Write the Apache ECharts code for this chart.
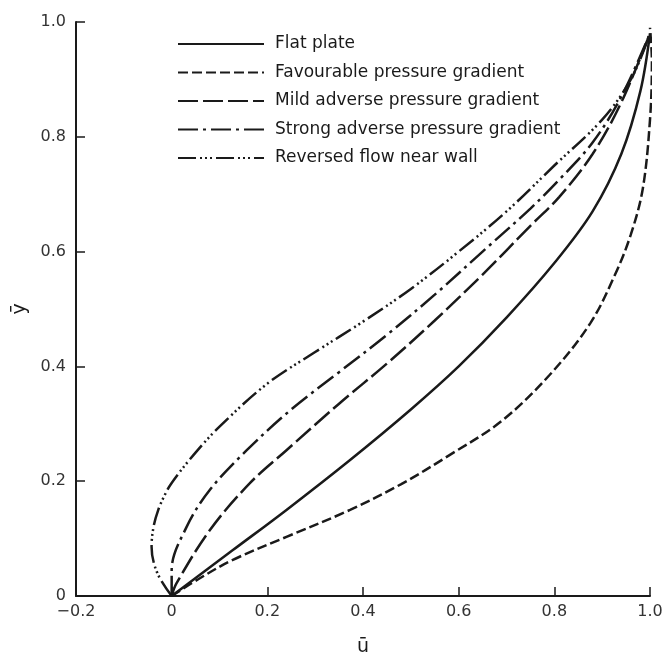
<!DOCTYPE html>
<html>
<head>
<meta charset="utf-8">
<script src="https://cdn.jsdelivr.net/npm/echarts@6/dist/echarts.min.js"></script>
<style>
  html, body { margin: 0; padding: 0; background: #fff; }
  #chart { width: 670px; height: 659px; }
</style>
</head>
<body>
<div id="chart"></div>
<script>
// velocity profiles, [u, y] pairs
const flatPlate = [
  [0, 0], [0.128, 0.08], [0.24, 0.15], [0.373, 0.237], [0.5, 0.325], [0.6, 0.4],
  [0.7, 0.485], [0.8, 0.58], [0.88, 0.67], [0.94, 0.77], [0.98, 0.88], [1.0, 0.98]
];
const favourable = [
  [0, 0], [0.059, 0.031], [0.128, 0.063], [0.24, 0.103], [0.373, 0.15], [0.48, 0.195],
  [0.58, 0.245], [0.69, 0.305], [0.79, 0.385], [0.875, 0.475], [0.927, 0.56],
  [0.96, 0.63], [0.985, 0.71], [1.0, 0.83], [1.004, 0.93], [1.0, 0.99]
];
const mildAdverse = [
  [0, 0], [0.01, 0.022], [0.08, 0.115], [0.164, 0.197], [0.24, 0.254], [0.35, 0.335],
  [0.45, 0.405], [0.55, 0.48], [0.65, 0.56], [0.75, 0.645], [0.81, 0.695], [0.88, 0.77],
  [0.94, 0.86], [1.0, 0.98]
];
const strongAdverse = [
  [0, 0], [0, 0.045], [0.031, 0.12], [0.08, 0.185], [0.157, 0.254], [0.25, 0.325],
  [0.35, 0.39], [0.45, 0.455], [0.55, 0.525], [0.65, 0.6], [0.75, 0.675], [0.81, 0.725],
  [0.88, 0.79], [0.94, 0.87], [1.0, 0.98]
];
const reversedFlow = [
  [0, 0], [-0.03, 0.04], [-0.042, 0.086], [-0.038, 0.12], [-0.028, 0.15], [-0.015, 0.175],
  [0, 0.197], [0.045, 0.245], [0.1, 0.295], [0.2, 0.37], [0.3, 0.425], [0.4, 0.478],
  [0.5, 0.535], [0.6, 0.6], [0.7, 0.67], [0.8, 0.75], [0.9, 0.83], [0.96, 0.9], [1.0, 0.98]
];
const seriesNames = [
  "Flat plate",
  "Favourable pressure gradient",
  "Mild adverse pressure gradient",
  "Strong adverse pressure gradient",
  "Reversed flow near wall"
];

const ink = "#1a1a1a";
const fontFamily = "DejaVu Sans";

function tickLabel(v) {
  if (v === 0) return "0";
  return v.toFixed(1).replace("-", "\u2212");
}

function profile(name, data, dash) {
  return {
    name: name,
    type: "line",
    data: data,
    smooth: 0.35,
    symbol: "none",
    showSymbol: false,
    lineStyle: { color: ink, width: 2.5, type: dash },
    itemStyle: { color: ink }
  };
}

const chart = echarts.init(document.getElementById("chart"), null, { renderer: "canvas" });

chart.setOption({
  animation: false,
  backgroundColor: "#fff",
  grid: { left: 76, right: 20, top: 22, bottom: 63, containLabel: false, outerBoundsMode: "none" },
  legend: {
    orient: "vertical",
    left: 172,
    top: 29,
    itemWidth: 86,
    itemHeight: 14,
    itemGap: 8.5,
    data: seriesNames,
    itemStyle: { opacity: 0 },
    textStyle: {
      color: ink,
      fontFamily: fontFamily,
      fontSize: 17,
      lineHeight: 20,
      padding: [0, 0, 0, 6]
    }
  },
  xAxis: {
    type: "value",
    min: -0.2,
    max: 1.0,
    interval: 0.2,
    name: "\u016b",
    nameLocation: "middle",
    nameGap: 42,
    nameTextStyle: { color: ink, fontFamily: fontFamily, fontSize: 19 },
    splitLine: { show: false },
    axisLine: { onZero: false, lineStyle: { color: ink, width: 2 } },
    axisTick: { inside: true, length: 9, lineStyle: { color: ink, width: 1.5 } },
    axisLabel: { color: "#333", fontFamily: fontFamily, fontSize: 16, margin: 8, formatter: tickLabel }
  },
  yAxis: {
    type: "value",
    min: 0,
    max: 1.0,
    interval: 0.2,
    name: "\u0233",
    nameLocation: "middle",
    nameRotate: 90,
    nameGap: 44,
    nameTextStyle: { color: ink, fontFamily: fontFamily, fontSize: 19 },
    splitLine: { show: false },
    axisLine: { onZero: false, lineStyle: { color: ink, width: 2 } },
    axisTick: { inside: true, length: 9, lineStyle: { color: ink, width: 1.5 } },
    axisLabel: { color: "#333", fontFamily: fontFamily, fontSize: 16, margin: 10, formatter: tickLabel }
  },
  series: [
    profile(seriesNames[0], flatPlate, "solid"),
    profile(seriesNames[1], favourable, [10, 4]),
    profile(seriesNames[2], mildAdverse, [20, 5]),
    profile(seriesNames[3], strongAdverse, [20, 5, 3, 5]),
    profile(seriesNames[4], reversedFlow, [18, 4, 2, 3, 2, 3, 2, 4])
  ]
});
</script>
</body>
</html>
